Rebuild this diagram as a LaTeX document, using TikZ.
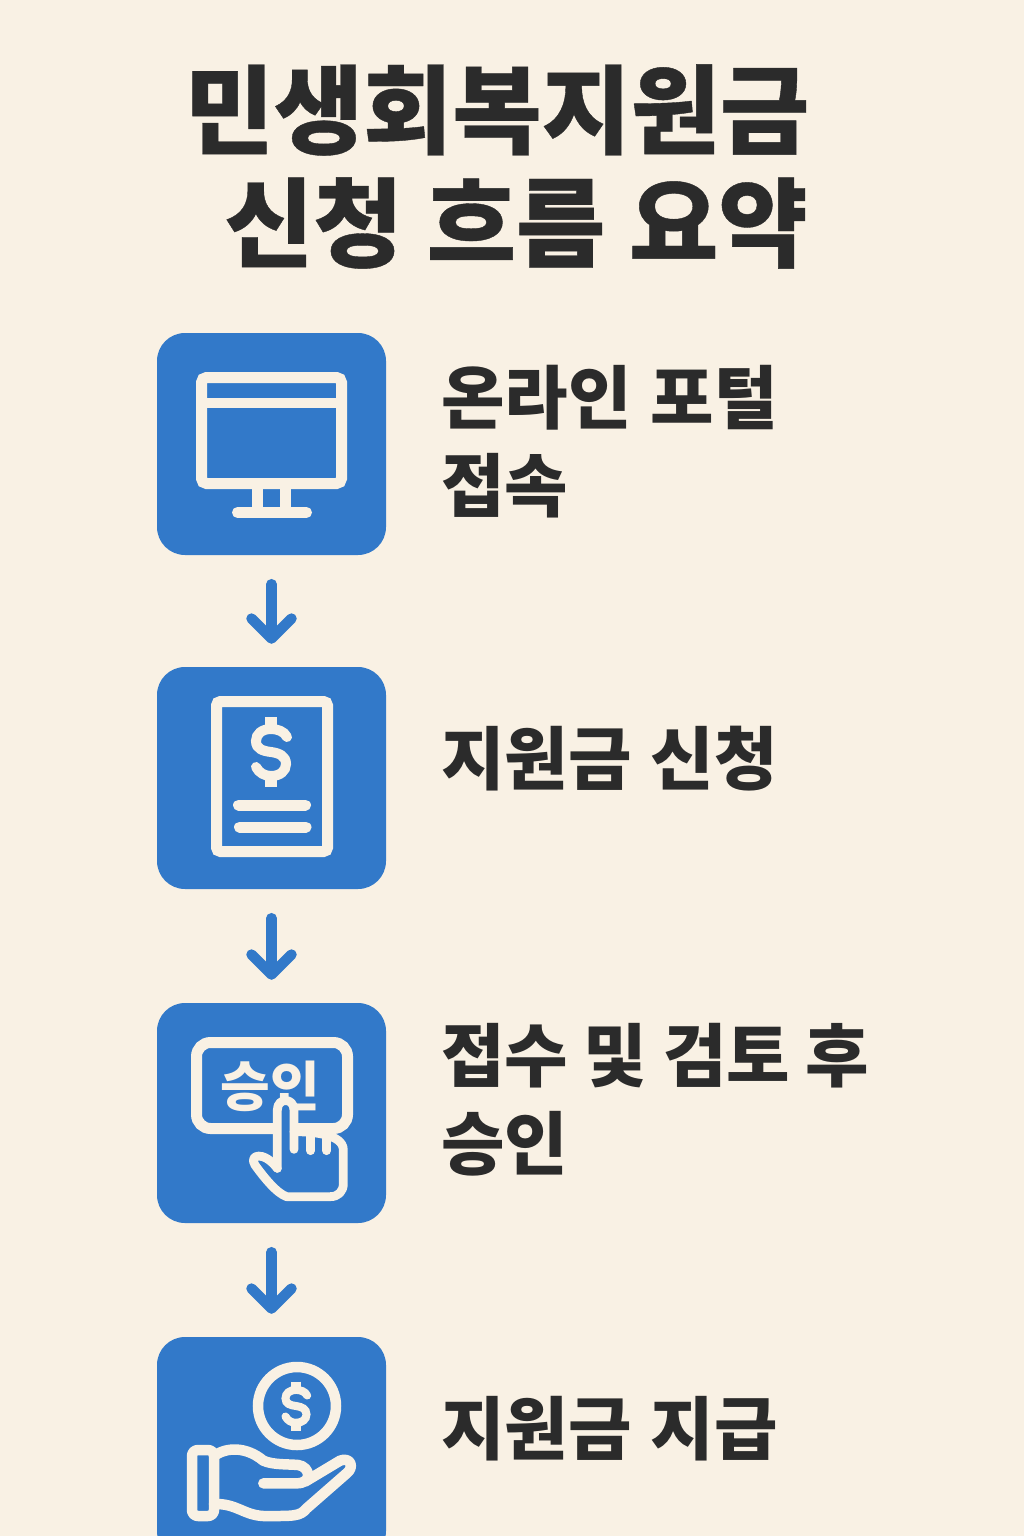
\documentclass[tikz,border=0pt]{standalone}
\usepackage{fontspec}
\newfontfamily\kr{Noto Sans CJK KR}[WordSpace=1.2]
\newfontfamily\krblack{Noto Sans CJK KR Black}[WordSpace=1.08,FakeBold=0.4]
\usetikzlibrary{arrows.meta}
\definecolor{bgc}{HTML}{F9F1E4}
\definecolor{bluec}{HTML}{3279C9}
\definecolor{inkc}{HTML}{2B2B2B}
\tikzset{
  iconbox/.style={draw=none,fill=bluec,rounded corners=28pt,minimum width=229pt,minimum height=222pt,inner sep=0pt},
  flowarrow/.style={draw=bluec,line width=10.5pt,line cap=round,line join=round,shorten <=29pt,shorten >=23pt,-{Straight Barb[length=20pt,width=40pt,round]}},
  titletext/.style={text=inkc,inner sep=0pt,font=\krblack\fontsize{97}{112}\selectfont},
  labeltext/.style={text=inkc,inner sep=0pt,anchor=west,align=left,font=\kr\bfseries\fontsize{69}{88}\selectfont},
  iconline/.style={draw=bgc,line width=11pt},
  handline/.style={draw=bgc,line width=10.5pt,line cap=round,line join=round},
  fingerline/.style={draw=bgc,line width=8.8pt,line cap=round,line join=round},
  dollarsign/.pic={
    \draw[bgc,line width=#1,line cap=round] (16,-15) .. controls (13,-21) and (6,-23) .. (0,-23) .. controls (-9,-23) and (-15,-18) .. (-15,-11) .. controls (-15,-3) and (-8,-1) .. (0,0) .. controls (8,1) and (15,4) .. (15,12) .. controls (15,19) and (9,24) .. (0,24) .. controls (-6,24) and (-12,21) .. (-15,15);
    \draw[bgc,line width=1.2*#1] (0,-35) -- (0,-23) (0,24) -- (0,35);
  }
}
\begin{document}
\begin{tikzpicture}[x=1pt,y=-1pt]
\useasboundingbox (0,0) rectangle (1024,1536);
\fill[bgc] (0,0) rectangle (1024,1536);
% title
\node[titletext] (t1) at (497,110) {민생회복지원금};
\node[titletext] (t2) at (516,223) {신청 흐름 요약};
% boxes
\node[iconbox] (b1) at (271.5,444) {};
\node[iconbox] (b2) at (271.5,778) {};
\node[iconbox,minimum height=220pt] (b3) at (271.5,1113) {};
\node[iconbox] (b4) at (271.5,1448) {};
% arrows
\draw[flowarrow] (b1) -- (b2);
\draw[flowarrow] (b2) -- (b3);
\draw[flowarrow] (b3) -- (b4);
% labels
\node[labeltext] (l1) at (441,442) {온라인 포털\\접속};
\node[labeltext] (l2) at (441,759) {지원금 신청};
\node[labeltext] (l3) at (441,1100) {접수 \hspace{-3.2pt}및 \hspace{-3.2pt}검토 \hspace{-3.2pt}후\\승인};
\node[labeltext] (l4) at (441,1429) {지원금 지급};
% icon 1: monitor
\draw[iconline,rounded corners=5pt] (201.5,377.5) rectangle (341.5,483.5);
\draw[draw=bgc,line width=10pt] (201.5,403) -- (341.5,403);
\draw[iconline] (257.5,486) -- (257.5,510) (285.5,486) -- (285.5,510);
\draw[iconline,line cap=round] (237.5,512.5) -- (306.5,512.5);
% icon 2: document
\draw[iconline,rounded corners=4pt] (216.5,701.5) rectangle (327.5,851.5);
\pic at (271,752) {dollarsign=10pt};
\draw[iconline,line cap=round] (238.5,805) -- (305.5,805);
\draw[iconline,line cap=round] (239.5,827) -- (306,827);
% icon 3: button with hand
\draw[iconline,rounded corners=14pt] (196.5,1042.5) rectangle (347.5,1128.5);
\node[text=bgc,inner sep=0pt,font=\kr\bfseries\fontsize{54}{54}\selectfont] (btn) at (270.5,1086) {승인};
\begin{scope}[shift={(150,990)},scale=1/3]
\fill[bluec] (382,535) -- (382,360) .. controls (382,322) and (432,322) .. (432,360) -- (432,430) .. controls (480,425) and (580,430) .. (580,480) -- (580,580) .. controls (580,605) and (565,620) .. (540,620) -- (410,620) -- (310,510) .. controls (305,485) and (345,480) .. (382,535) -- cycle;
\draw[fingerline] (382,535) -- (382,360) .. controls (382,322) and (432,322) .. (432,360) -- (432,478);
\draw[fingerline] (432,425) .. controls (480,425) and (580,430) .. (580,480) -- (580,580) .. controls (580,605) and (565,620) .. (540,620) -- (410,620) .. controls (380,610) and (340,560) .. (315,525) .. controls (295,495) and (340,480) .. (382,535);
\draw[fingerline] (482,430) -- (482,482);
\draw[fingerline] (530,440) -- (530,482);
\end{scope}
% icon 4: coin and hand
\draw[draw=bgc,line width=10.5pt] (297,1406) circle (39pt);
\pic[scale=0.7] at (296,1406) {dollarsign=8pt};
\begin{scope}[shift={(150,1330)},scale=1/3]
\draw[handline,rounded corners=6pt] (126,360) rectangle (192,558);
\draw[handline] (192,378) .. controls (230,350) and (290,350) .. (340,392) .. controls (370,405) and (410,402) .. (445,405) .. controls (480,410) and (490,460) .. (440,460) -- (340,460);
\draw[handline] (465,455) -- (570,392) .. controls (600,380) and (615,410) .. (590,430) -- (470,535) .. controls (450,560) and (430,558) .. (340,558) .. controls (280,555) and (260,520) .. (192,522);
\end{scope}
\end{tikzpicture}
\end{document}
